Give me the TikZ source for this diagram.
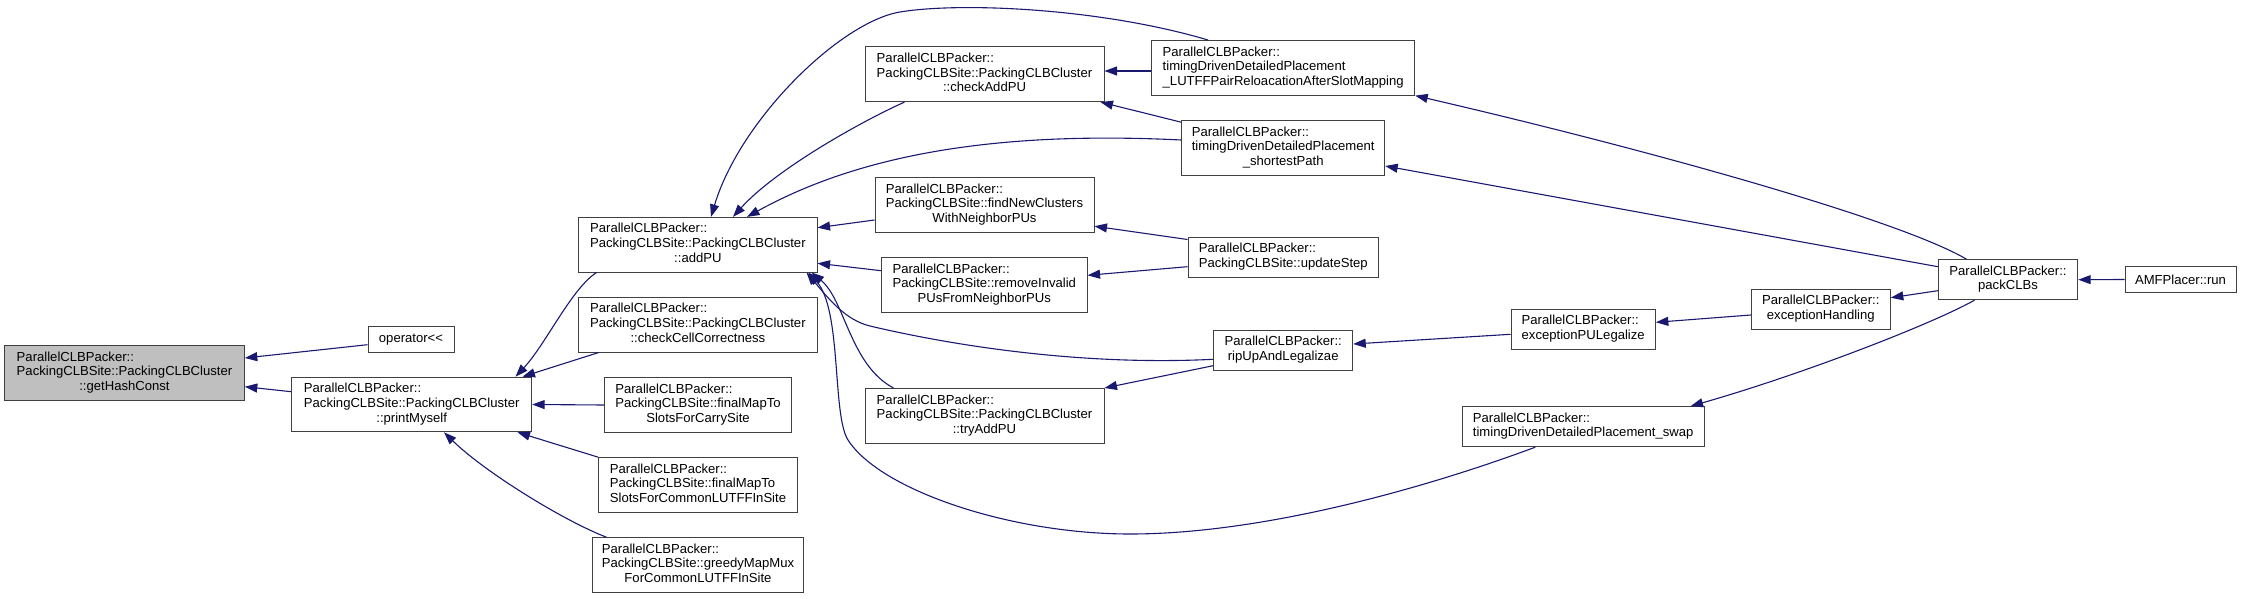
\documentclass[tikz,border=0pt]{standalone}
\usepackage{fontspec}
\setmainfont{Liberation Sans}
\usetikzlibrary{arrows.meta,calc}
\definecolor{edgeblue}{HTML}{191970}
\definecolor{hlgray}{HTML}{BFBFBF}
\newcommand{\lf}[1]{\multicolumn{1}{@{}l@{}}{#1}}
\newcommand{\lbl}[1]{\begin{tabular}{@{}c@{}}#1\end{tabular}}
\begin{document}
\begin{tikzpicture}[x=1pt,y=-1pt,
  fn/.style={draw=black!75,line width=1pt,fill=white,rectangle,inner sep=0pt,
    font=\fontsize{13.1}{14.7}\selectfont},
  hl/.style={fn,fill=hlgray},
  sz/.style 2 args={minimum width=#1,minimum height=#2},
  call/.style={draw=edgeblue,line width=1.1pt,-{Triangle[length=12.5pt,width=9pt]}}]
\useasboundingbox (0,0) rectangle (2241,599);

% column 0
\node[hl,sz={239.6pt}{55pt}] (ghc) at (124.5,372.8)
  {\lbl{\lf{ParallelCLBPacker::}\\ \lf{PackingCLBSite::PackingCLBCluster}\\ ::getHashConst}};
% column 1
\node[fn,sz={86pt}{26pt}] (opl) at (411,339.8) {operator<\kern0pt<};
\node[fn,sz={240pt}{54.6pt}] (pm) at (411.7,404.5)
  {\lbl{\lf{ParallelCLBPacker::}\\ \lf{PackingCLBSite::PackingCLBCluster}\\ ::printMyself}};
% column 2
\node[fn,sz={238.3pt}{54.6pt}] (addpu) at (697.9,244.7)
  {\lbl{\lf{ParallelCLBPacker::}\\ \lf{PackingCLBSite::PackingCLBCluster}\\ ::addPU}};
\node[fn,sz={238.3pt}{54.6pt}] (ccc) at (697.9,324.7)
  {\lbl{\lf{ParallelCLBPacker::}\\ \lf{PackingCLBSite::PackingCLBCluster}\\ ::checkCellCorrectness}};
\node[fn,sz={186.6pt}{54.6pt}] (carry) at (698,405)
  {\lbl{\lf{ParallelCLBPacker::}\\ \lf{PackingCLBSite::finalMapTo}\\ SlotsForCarrySite}};
\node[fn,sz={198.6pt}{54.6pt}] (common) at (698,485)
  {\lbl{\lf{ParallelCLBPacker::}\\ \lf{PackingCLBSite::finalMapTo}\\ SlotsForCommonLUTFFInSite}};
\node[fn,sz={210.6pt}{54.6pt}] (greedy) at (698,565)
  {\lbl{\lf{ParallelCLBPacker::}\\ \lf{PackingCLBSite::greedyMapMux}\\ ForCommonLUTFFInSite}};
% column 3
\node[fn,sz={239pt}{54.6pt}] (cap) at (984.5,74.3)
  {\lbl{\lf{ParallelCLBPacker::}\\ \lf{PackingCLBSite::PackingCLBCluster}\\ ::checkAddPU}};
\node[fn,sz={219pt}{54.6pt}] (fnc) at (984.5,205)
  {\lbl{\lf{ParallelCLBPacker::}\\ \lf{PackingCLBSite::findNewClusters}\\ WithNeighborPUs}};
\node[fn,sz={205.5pt}{54.6pt}] (rinv) at (984.3,285)
  {\lbl{\lf{ParallelCLBPacker::}\\ \lf{PackingCLBSite::removeInvalid}\\ PUsFromNeighborPUs}};
\node[fn,sz={239pt}{54.6pt}] (try) at (984.5,415.8)
  {\lbl{\lf{ParallelCLBPacker::}\\ \lf{PackingCLBSite::PackingCLBCluster}\\ ::tryAddPU}};
% column 4
\node[fn,sz={263pt}{54.6pt}] (lut) at (1283.2,67.8)
  {\lbl{\lf{ParallelCLBPacker::}\\ \lf{timingDrivenDetailedPlacement}\\ \_LUTFFPairReloacationAfterSlotMapping}};
\node[fn,sz={203pt}{54.6pt}] (sp) at (1283.2,147.8)
  {\lbl{\lf{ParallelCLBPacker::}\\ \lf{timingDrivenDetailedPlacement}\\ \_shortestPath}};
\node[fn,sz={190.6pt}{40pt}] (ups) at (1283.3,257.3)
  {\lbl{\lf{ParallelCLBPacker::}\\ PackingCLBSite::updateStep}};
\node[fn,sz={139pt}{40pt}] (rul) at (1283.2,350.3)
  {\lbl{ParallelCLBPacker::\\ ripUpAndLegalizae}};
% column 5
\node[fn,sz={144.3pt}{40pt}] (epl) at (1583.2,329.2)
  {\lbl{\lf{ParallelCLBPacker::}\\ exceptionPULegalize}};
\node[fn,sz={241.7pt}{40pt}] (swap) at (1583.2,426.7)
  {\lbl{\lf{ParallelCLBPacker::}\\ timingDrivenDetailedPlacement\_swap}};
% column 6-8
\node[fn,sz={139pt}{40pt}] (eh) at (1820.8,309.2)
  {\lbl{ParallelCLBPacker::\\ exceptionHandling}};
\node[fn,sz={139.4pt}{40pt}] (pack) at (2008,279.7)
  {\lbl{ParallelCLBPacker::\\ packCLBs}};
\node[fn,sz={111pt}{25.6pt}] (amf) at (2180.5,279.5) {AMFPlacer::run};

% connectors
\draw[call] ($(opl.west)+(0,4.9)$) -- ($(ghc.east)+(0,-14.8)$);
\draw[call] ($(pm.west)+(0,-12.8)$) -- ($(ghc.east)+(0,13.9)$);
\draw[call] ($(addpu.south west)+(18.3,0)$) .. controls +(-25,16) and +(30,-32) .. ($(pm.north east)+(-16.7,0)$);
\draw[call] ($(ccc.south west)+(20.5,0)$) -- ($(pm.north east)+(-9.7,0)$);
\draw[call] (carry.west) -- (pm.east);
\draw[call] (common.north west) -- ($(pm.south east)+(-14.7,0)$);
\draw[call] ($(greedy.north west)+(14.3,0)$) .. controls +(-42,-16) and +(41,40) .. ($(pm.south)+(32.3,0)$);

\draw[call] ($(lut.north)+(-75.2,0)$) .. controls (1100,8) and (960,2) .. (900,12)
  .. controls (840,22) and (740,120) .. ($(addpu.north)+(13.1,0)$);
\draw[call] ($(cap.south west)+(40,0)$) .. controls (860,122) and (775,170) .. ($(addpu.north)+(35.1,0)$);
\draw[call] ($(sp.west)+(0,-7.8)$) .. controls (980,130) and (850,160) .. ($(addpu.north)+(49.1,0)$);
\draw[call] ($(fnc.west)+(0,15)$) -- ($(addpu.east)+(0,-17)$);
\draw[call] ($(rinv.west)+(0,-14.3)$) -- ($(addpu.east)+(0,18.6)$);
\draw[call] ($(rul.west)+(0,9)$) .. controls (1080,366) and (950,345) .. (870,326)
  .. controls (845,320) and (828,298) .. ($(addpu.south east)+(-11,0)$);
\draw[call] ($(try.north west)+(29,0)$) .. controls (850,365) and (845,300) .. ($(addpu.south east)+(-6,0)$);
\draw[call] ($(swap.south west)+(73.4,0)$) .. controls (1420,490) and (1260,534) .. (1130,534)
  .. controls (1010,534) and (880,490) .. (848,440)
  .. controls (832,415) and (842,310) .. ($(addpu.south east)+(-9,0)$);

\draw[call] ($(lut.west)+(0,3.2)$) -- ($(cap.east)+(0,-3.3)$);
\draw[call] ($(sp.north west)+(0,2.2)$) -- ($(cap.south east)+(-4,0)$);
\draw[call] ($(ups.north west)+(0,2.7)$) -- ($(fnc.south east)+(0,-6.6)$);
\draw[call] ($(ups.west)+(0,9.4)$) -- ($(rinv.east)+(0,-9.7)$);
\draw[call] ($(rul.west)+(0,15.4)$) -- (try.north east);
\draw[call] ($(epl.west)+(0,5.1)$) -- ($(rul.east)+(0,-6.3)$);
\draw[call] ($(eh.west)+(0,5.8)$) -- ($(epl.east)+(0,-6.9)$);
\draw[call] ($(pack.west)+(0,11)$) -- ($(eh.east)+(0,-11.5)$);
\draw[call] ($(pack.south west)+(36.7,0)$) .. controls (1930,325) and (1800,375) .. ($(swap.north east)+(-14,0)$);
\draw[call] ($(pack.north west)+(28.7,0)$) .. controls (1900,220) and (1650,150) .. (lut.south east);
\draw[call] ($(pack.west)+(0,-13)$) -- ($(sp.east)+(0,18.2)$);
\draw[call] (amf.west) -- (pack.east);
\end{tikzpicture}
\end{document}
